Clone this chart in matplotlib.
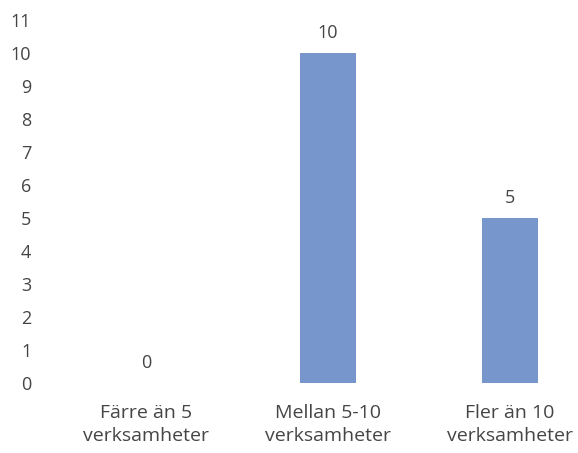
import matplotlib
matplotlib.use("Agg")
import matplotlib.pyplot as plt

categories = ["Färre än 5\nverksamheter", "Mellan 5-10\nverksamheter", "Fler än 10\nverksamheter"]
counts = [0, 10, 5]
yticks = list(range(0, 12))

plt.rcParams["font.family"] = ["Open Sans", "DejaVu Sans"]
text_color = "#454545"

fig = plt.figure(figsize=(5.78, 4.53), dpi=100)
ax = fig.add_axes([55 / 578, 70 / 453, 522 / 578, 363 / 453])

x = range(len(categories))
ax.bar(x, counts, width=0.31, color="#7696CC")
for xi, v in zip(x, counts):
    ax.annotate(str(v), (xi, v), xytext=(0, 8), textcoords="offset points",
                ha="center", va="bottom", fontsize=13, color=text_color)

ax.set_xlim(-0.5, 2.37)
ax.set_ylim(0, 11)
ax.set_yticks(yticks)
ax.set_xticks(list(x))
ax.set_xticklabels(categories, fontsize=14, color=text_color, linespacing=1.4)
ax.tick_params(axis="y", length=0, pad=17, labelsize=13, labelcolor=text_color)
ax.tick_params(axis="x", length=0, pad=15)
for s in ax.spines.values():
    s.set_visible(False)

fig.savefig("out.png", dpi=100)
